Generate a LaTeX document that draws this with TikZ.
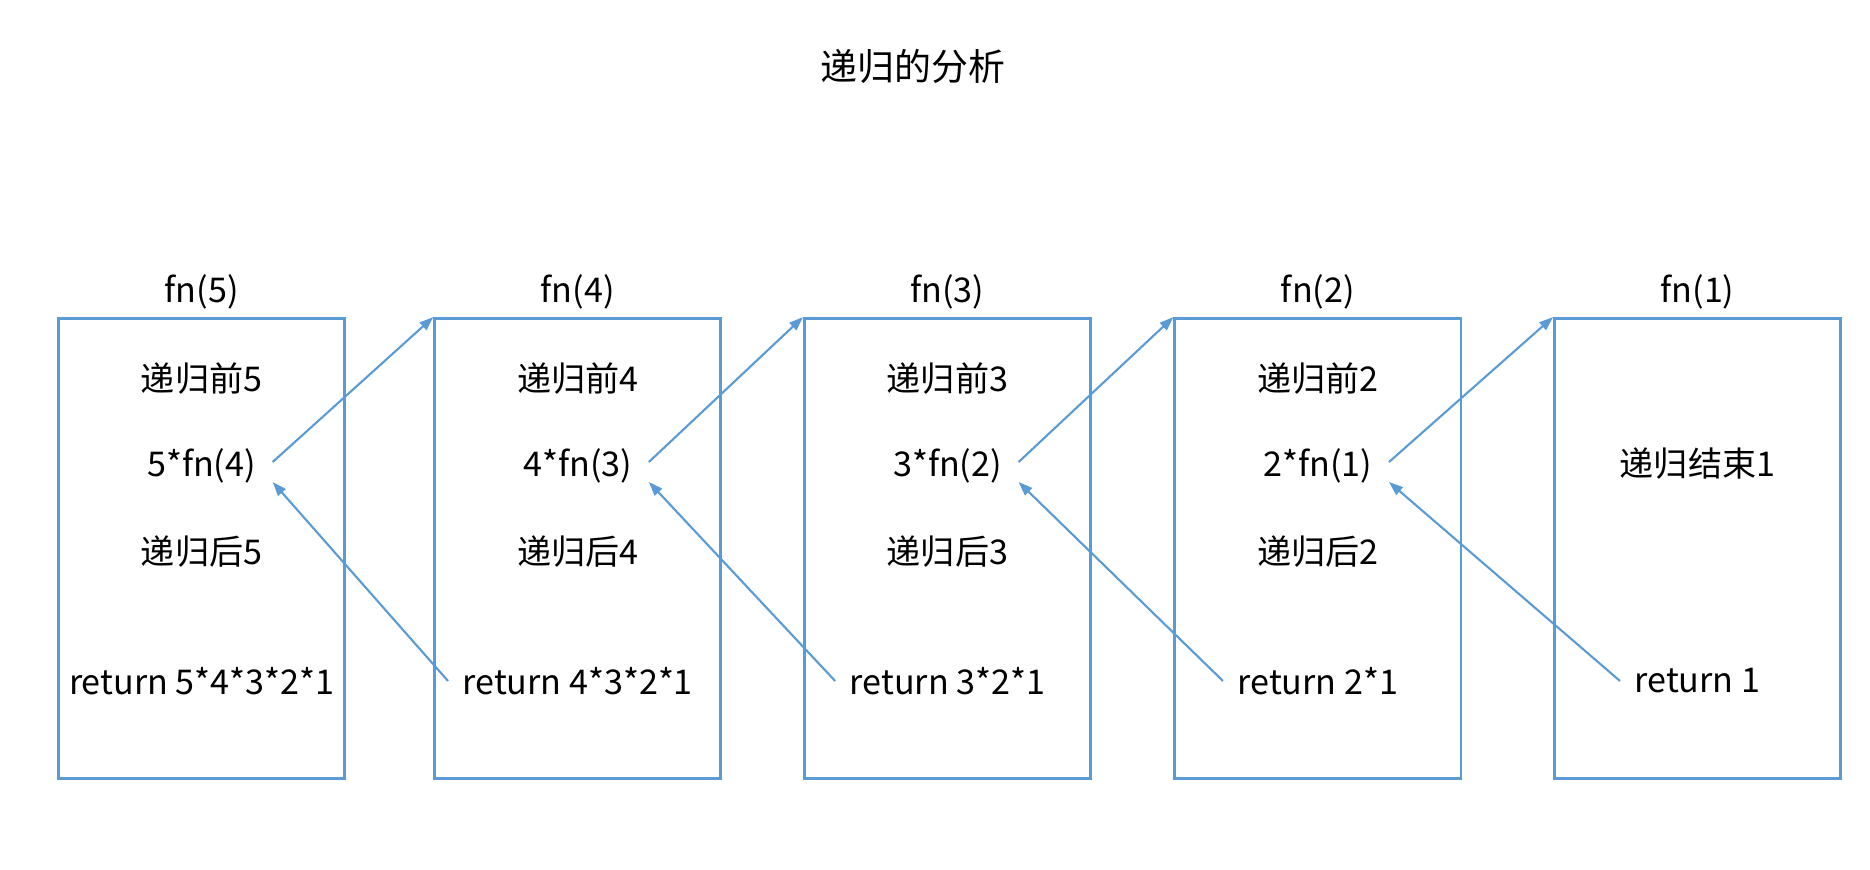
\documentclass[tikz,border=0pt]{standalone}
\usepackage{fontspec}
\setmainfont{Noto Sans CJK SC}
\usetikzlibrary{arrows.meta, positioning}
\definecolor{lineblue}{HTML}{5B9BD5}

\begin{document}
\begin{tikzpicture}[
    x=0.01cm, y=-0.01cm,
    frame/.style={rectangle, draw=lineblue, line width=0.8pt, minimum width=2.86cm, minimum height=4.6cm, inner sep=0pt},
    txt/.style={font=\fontsize{9.7}{11}\selectfont, inner sep=0pt},
    call/.style={txt, inner xsep=0.16cm},
    ret/.style={txt, inner xsep=0.14cm},
    arrow/.style={-{Triangle[length=0.14cm, width=0.1cm]}, draw=lineblue, fill=lineblue, line width=0.6pt}
]
\useasboundingbox (0,0) rectangle (1870,870);

% Title
\node[txt, font=\fontsize{10.5}{12}\selectfont] (title) at (913,66) {递归的分析};

% Frames, one per call
\node[frame] (f5) at (201.6,548.6) {};
\node[frame] (f4) at (577.8,548.6) {};
\node[frame] (f3) at (947.5,548.6) {};
\node[frame] (f2) at (1317.9,548.6) {};
\node[frame] (f1) at (1697.5,548.6) {};

% Frame labels
\node[txt] (l5) at (201.6,292) {fn(5)};
\node[txt] (l4) at (577.8,292) {fn(4)};
\node[txt] (l3) at (947.5,292) {fn(3)};
\node[txt] (l2) at (1317.9,292) {fn(2)};
\node[txt] (l1) at (1697.5,292) {fn(1)};

% fn(5)
\node[txt] (b5) at (201.6,379) {递归前5};
\node[call] (c5) at (201.6,466) {5*fn(4)};
\node[txt] (a5) at (201.6,552) {递归后5};
\node[ret] (r5) at (201.6,681) {return 5*4*3*2*1};

% fn(4)
\node[txt] (b4) at (577.8,379) {递归前4};
\node[call] (c4) at (577.8,466) {4*fn(3)};
\node[txt] (a4) at (577.8,552) {递归后4};
\node[ret] (r4) at (577.8,681) {return 4*3*2*1};

% fn(3)
\node[txt] (b3) at (947.5,379) {递归前3};
\node[call] (c3) at (947.5,466) {3*fn(2)};
\node[txt] (a3) at (947.5,552) {递归后3};
\node[ret] (r3) at (947.5,681) {return 3*2*1};

% fn(2)
\node[txt] (b2) at (1317.9,379) {递归前2};
\node[call] (c2) at (1317.9,466) {2*fn(1)};
\node[txt] (a2) at (1317.9,552) {递归后2};
\node[ret] (r2) at (1317.9,681) {return 2*1};

% fn(1)
\node[txt] (e1) at (1697.5,464) {递归结束1};
\node[ret] (r1) at (1697.5,681) {return 1};

% Calls going in
\draw[arrow] ([yshift=0.04cm]c5.east) -- (f4.north west);
\draw[arrow] ([yshift=0.04cm]c4.east) -- (f3.north west);
\draw[arrow] ([yshift=0.04cm]c3.east) -- (f2.north west);
\draw[arrow] ([yshift=0.04cm]c2.east) -- (f1.north west);

% Values coming back
\draw[arrow] (r4.west) -- ([yshift=-0.16cm]c5.east);
\draw[arrow] (r3.west) -- ([yshift=-0.16cm]c4.east);
\draw[arrow] (r2.west) -- ([yshift=-0.16cm]c3.east);
\draw[arrow] (r1.west) -- ([yshift=-0.16cm]c2.east);
\end{tikzpicture}
\end{document}
